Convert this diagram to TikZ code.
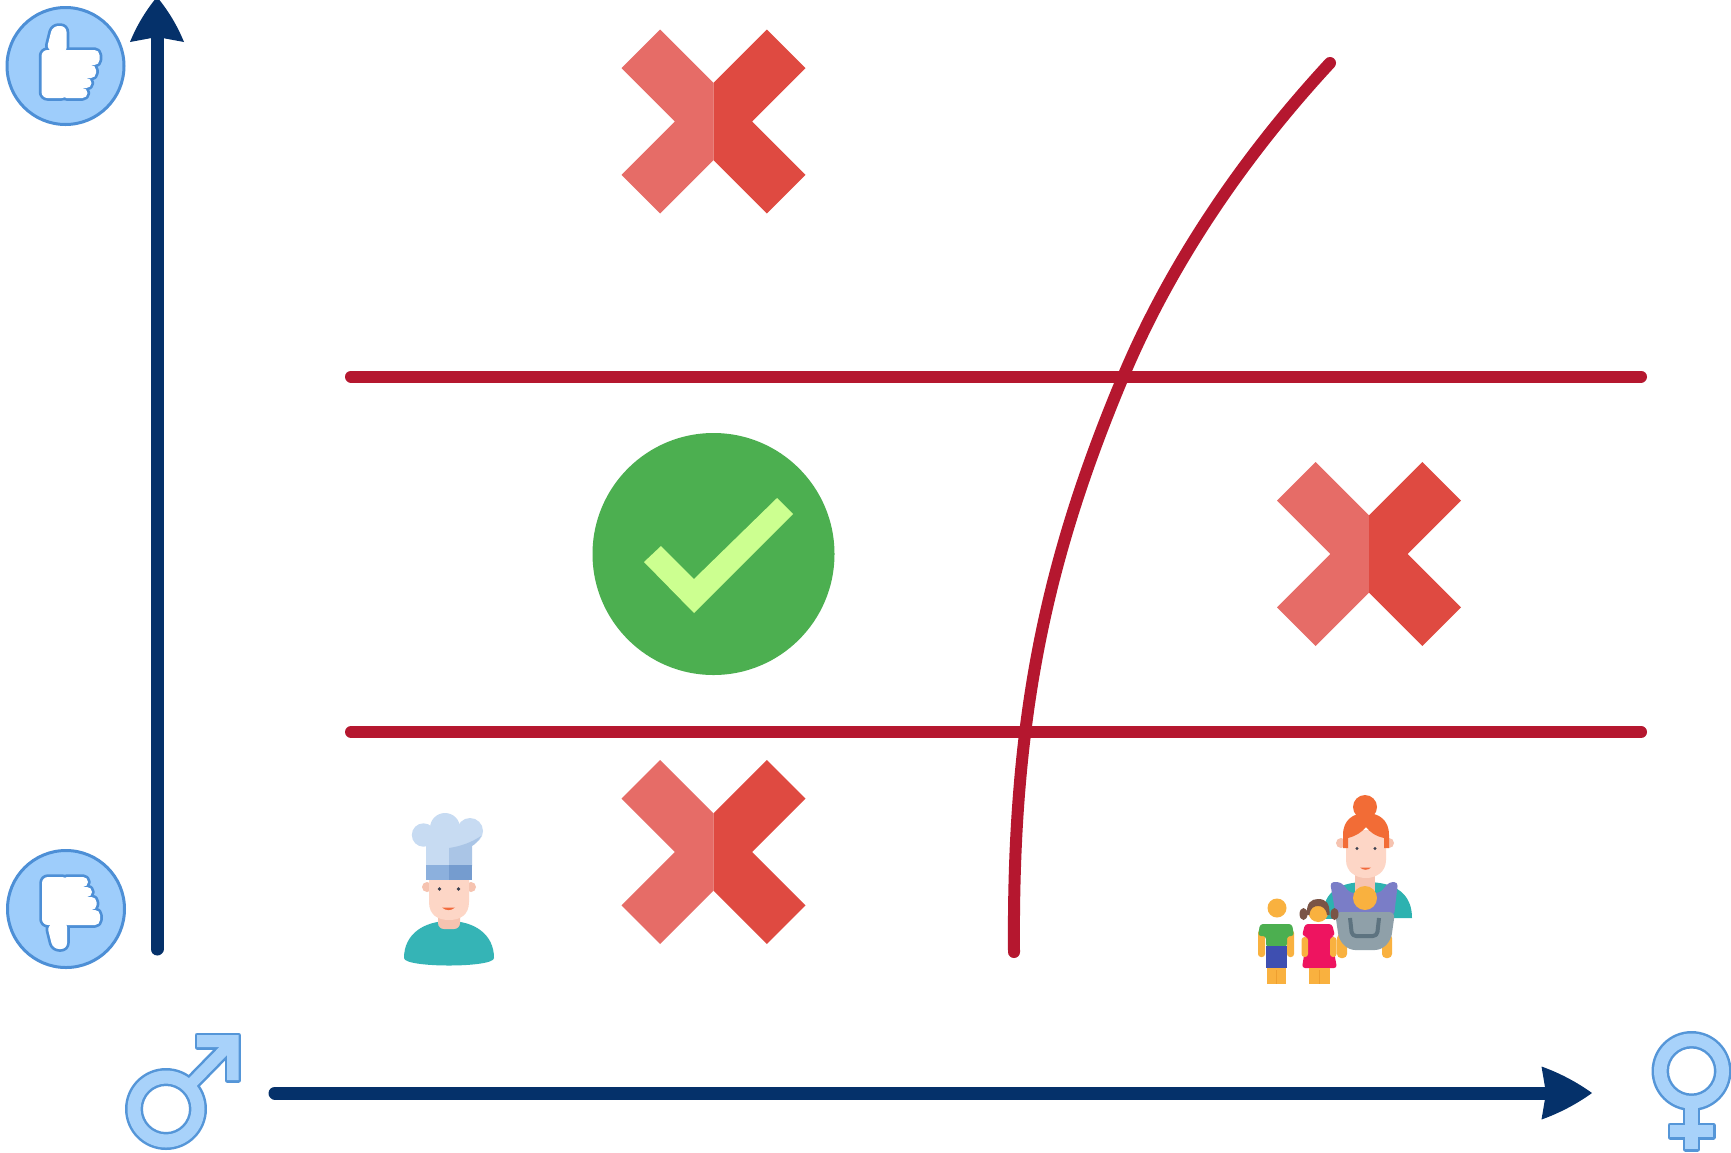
\documentclass[tikz,border=0pt]{standalone}
\definecolor{navy}{HTML}{05316A}
\definecolor{crimson}{HTML}{B5172F}
\definecolor{xlight}{HTML}{E66C67}
\definecolor{xdark}{HTML}{DF4A41}
\definecolor{okgreen}{HTML}{4CAF50}
\definecolor{oklime}{HTML}{CCFF90}
\definecolor{iconfill}{HTML}{9ECDFB}
\definecolor{iconline}{HTML}{4D8FD6}
\definecolor{symfill}{HTML}{A8D2FA}
\definecolor{symline}{HTML}{5596D8}
% people
\definecolor{skin}{HTML}{FDD6C6}
\definecolor{skinshade}{HTML}{F6C3B0}
\definecolor{chefteal}{HTML}{35B4B6}
\definecolor{hatc}{HTML}{C7DBF2}
\definecolor{hatshade}{HTML}{AAC5E6}
\definecolor{band}{HTML}{8CB0DD}
\definecolor{banddark}{HTML}{759CCF}
\definecolor{eyec}{HTML}{3B3F4E}
\definecolor{mouthc}{HTML}{F26A3C}
\definecolor{hairorange}{HTML}{F26C36}
\definecolor{mteal}{HTML}{2DB2B0}
\definecolor{mpurple}{HTML}{7A7DC7}
\definecolor{yell}{HTML}{F9B13F}
\definecolor{yelldark}{HTML}{EE9F30}
\definecolor{cgrey}{HTML}{8FA0A9}
\definecolor{cgreydark}{HTML}{5D7380}
\definecolor{boygreen}{HTML}{4CAF50}
\definecolor{boyblue}{HTML}{3E4FB1}
\definecolor{girlpink}{HTML}{EE1460}
\definecolor{girlhair}{HTML}{7A5446}

% hand of the thumb icon, drawn piece by piece
\newcommand\HandParts[1]{%
  \path[#1,rounded corners=6] (-24,-16) rectangle (2,32);
  \path[#1,rounded corners=6] (-19,-16) -- (-13,-40) -- (1,-40) -- (1,-12) -- cycle;
  \path[#1,rounded corners=5] (-4,-16) rectangle (34,-1);
  \path[#1,rounded corners=5] (-4,-1) rectangle (30.5,12);
  \path[#1,rounded corners=5] (-4,12) rectangle (26,22);
  \path[#1,rounded corners=5] (-4,22) rectangle (22,32);
}
% male and female signs
\newcommand\MaleParts[1]{%
  \path[#1,even odd rule] (166,1109) circle[radius=38.5] (166,1109) circle[radius=25.5];
  \path[#1] (192.5,1090.3) -- (235.9,1045.9) -- (228.1,1038.1) -- (184.7,1082.5) -- cycle;
  \path[#1] (197,1035) -- (238.5,1035) -- (238.5,1080) -- (227,1080) -- (227,1047) -- (197,1047) -- cycle;
}
\newcommand\FemaleParts[1]{%
  \path[#1,even odd rule] (1691.5,1071) circle[radius=37.5] (1691.5,1071) circle[radius=25];
  \path[#1] (1685.3,1100) rectangle (1697.7,1149);
  \path[#1] (1670,1125) rectangle (1713,1137);
}

\tikzset{
  axis/.style={navy, line width=13, line cap=round},
  border/.style={crimson, line width=12, line cap=round},
  cross/.pic={
    \fill[xlight] (0,-38.6) -- (-53.4,-92) -- (-92,-53.4) -- (-38.6,0) -- (-92,53.4) -- (-53.4,92) -- (0,38.6) -- cycle;
    \fill[xdark] (0,-38.6) -- (53.4,-92) -- (92,-53.4) -- (38.6,0) -- (92,53.4) -- (53.4,92) -- (0,38.6) -- cycle;
  },
  thumb/.pic={
    \fill[iconfill, draw=iconline, line width=3] (0,0) circle[radius=58.5];
    \HandParts{draw=iconline, line width=5.5}
    \HandParts{fill=white}
  }
}

\begin{document}
\begin{tikzpicture}[x=1pt, y=-1pt, line join=round]
\useasboundingbox (0,0) rectangle (1731,1152);
\fill[white] (0,0) rectangle (1731,1152);

% axes: shafts, then the heads
\coordinate (yfoot) at (157,949);
\coordinate (yneck) at (157,38);
\coordinate (ytip) at (157,-3);
\coordinate (xfoot) at (275,1093);
\coordinate (xneck) at (1547,1093);
\coordinate (xtip) at (1592,1093);
\draw[axis] (yfoot) -- (yneck);
\draw[axis] (xfoot) -- (xneck);
\begin{scope}[shift={(ytip)}]
  \fill[navy] (0,0) .. controls (-11.3,13.6) and (-20.3,28.6) .. (-27,45) -- (0,40)
    -- (27,45) .. controls (20.3,28.6) and (11.3,13.6) .. (0,0) -- cycle;
\end{scope}
\begin{scope}[shift={(xtip)}]
  \fill[navy] (0,0) .. controls (-15.6,-11.2) and (-32.4,-20) .. (-50.5,-26.5) -- (-46,0)
    -- (-50.5,26.5) .. controls (-32.4,20) and (-15.6,11.2) .. (0,0) -- cycle;
\end{scope}

% thumbs
\pic at (65.5,66) {thumb};
\pic[yscale=-1] at (66,909) {thumb};

% gender signs
\MaleParts{draw=symline, line width=5}
\MaleParts{fill=symfill}
\FemaleParts{draw=symline, line width=5}
\FemaleParts{fill=symfill}

% region borders
\coordinate (hiL) at (351,376.5);
\coordinate (hiR) at (1641,376.5);
\coordinate (loL) at (351,732);
\coordinate (loR) at (1641,732);
\coordinate (cbot) at (1014,952);
\coordinate (cmid) at (1123,377);
\coordinate (ctop) at (1330,63);
\draw[border] (hiL) -- (hiR);
\draw[border] (loL) -- (loR);
\draw[border] (cbot) .. controls (1012,720) and (1045.6,561.4) .. (cmid)
  .. controls (1171.4,261.75) and (1245.1,154.75) .. (ctop);

% verdicts
\pic at (713.5,121.5) {cross};
\pic at (1369,554) {cross};
\pic at (713.5,852) {cross};
\fill[okgreen] (713.5,554) circle[radius=121];
\fill[oklime] (644,562) -- (661,546) -- (694,579) -- (777,498) -- (793,514) -- (694,613) -- cycle;

% chef
\fill[chefteal] (404,958) .. controls (404,934) and (424,921) .. (449,921) .. controls (474,921) and (494,934) .. (494,958) .. controls (494,968) and (404,968) .. (404,958) -- cycle;
\fill[skinshade, rounded corners=6] (438,900) -- (438,929) -- (460,929) -- (460,900) -- cycle;
\fill[skinshade] (427,887) circle[radius=5];
\fill[skinshade] (471,887) circle[radius=5];
\fill[skin] (429,876) -- (429,902) .. controls (429,915) and (438,920) .. (449,920) .. controls (460,920) and (469,915) .. (469,902) -- (469,876) -- cycle;
\fill[eyec] (439.5,889) circle[radius=1.8];
\fill[eyec] (458.5,889) circle[radius=1.8];
\fill[mouthc] (442,907.5) .. controls (446,911) and (451,911) .. (455,907.5) -- cycle;
\fill[hatc] (426,836) rectangle (472,866);
\fill[hatc] (423.5,835) circle[radius=11.7];
\fill[hatc] (445,828) circle[radius=15];
\fill[hatc] (470,831) circle[radius=13];
\fill[hatshade] (449,866) -- (449,848) .. controls (462,846) and (472,842) .. (481,836) .. controls (478,842) and (474,845) .. (472,846) -- (472,866) -- cycle;
\fill[band] (426,865) rectangle (449,880);
\fill[banddark] (449,865) rectangle (472,880);

% mother carrying a baby
\fill[mteal] (1323,919) .. controls (1322,895) and (1335,882) .. (1366,882) .. controls (1397,882) and (1412,895) .. (1412,918) -- cycle;
\fill[skinshade] (1355,868) rectangle (1375,895);
\fill[mpurple, rounded corners=4] (1330,882) -- (1341,882) -- (1350,893) -- (1380,893) -- (1389,882) -- (1398,882) -- (1394,916) -- (1336,916) -- cycle;
\fill[skinshade] (1341,843) circle[radius=5];
\fill[skinshade] (1389,843) circle[radius=5];
\fill[skin] (1346,830) -- (1346,860) .. controls (1346,872) and (1356,878) .. (1366,878) .. controls (1376,878) and (1386,872) .. (1386,860) -- (1386,830) -- cycle;
\fill[hairorange] (1365,807) circle[radius=12];
\fill[hairorange] (1343,848) -- (1343,835) .. controls (1343,820) and (1353,813) .. (1366,813) .. controls (1379,813) and (1389,820) .. (1389,835) -- (1389,848) -- (1384,848) -- (1384,838) .. controls (1375,836) and (1370,832) .. (1366,827) .. controls (1362,832) and (1356,836) .. (1348,838) -- (1348,848) -- cycle;
\fill[eyec] (1357,848.5) circle[radius=1.6];
\fill[eyec] (1375,848.5) circle[radius=1.6];
\fill[mouthc] (1360,867.5) .. controls (1363,870.5) and (1368,870.5) .. (1371,867.5) -- cycle;
\fill[yell, rounded corners=4] (1337,934) rectangle (1347,958);
\fill[yell, rounded corners=4] (1382,934) rectangle (1392,958);
\fill[cgrey, rounded corners=6] (1335,912) -- (1395,912) -- (1391,940) -- (1381,950) -- (1349,950) -- (1339,940) -- cycle;
\draw[cgreydark, line width=4, rounded corners=4] (1350,918) -- (1352,936) -- (1377,936) -- (1379,918);
\fill[yell] (1365,898) circle[radius=12];

% boy
\fill[yell, rounded corners=3] (1258,930) rectangle (1265,957);
\fill[yell, rounded corners=3] (1287,930) rectangle (1294,957);
\fill[boygreen, rounded corners=3] (1258,936) -- (1260,924) -- (1292,924) -- (1294,936) -- (1287,936) -- (1287,947) -- (1266,947) -- (1266,936) -- cycle;
\fill[boyblue] (1266,946) rectangle (1287,968);
\fill[yell] (1267,968) rectangle (1286,984);
\draw[yelldark, line width=1] (1276.5,970) -- (1276.5,984);
\fill[yell] (1277,908) circle[radius=9.5];

% girl
\fill[girlpink, rounded corners=3] (1302,936) -- (1305,924) -- (1332,924) -- (1335,936) -- (1331,936) -- (1337,968) -- (1302,968) -- (1307,936) -- cycle;
\fill[yell, rounded corners=3] (1301.5,937) rectangle (1308,957);
\fill[yell, rounded corners=3] (1330,937) rectangle (1336.5,957);
\fill[yell] (1309,968) rectangle (1330,984);
\draw[yelldark, line width=1] (1319.5,970) -- (1319.5,984);
\fill[yell] (1318.3,912) circle[radius=10];
\fill[girlhair] (1303.5,914) ellipse[x radius=4, y radius=6];
\fill[girlhair] (1334.5,914) ellipse[x radius=4, y radius=6];
\fill[girlhair] (1307,915) .. controls (1306,903) and (1311,899) .. (1318,899) .. controls (1326,899) and (1330,903) .. (1329.5,915) -- (1327,915) .. controls (1326,908) and (1322,906) .. (1318,906) .. controls (1314,906) and (1310,908) .. (1309.5,915) -- cycle;
\end{tikzpicture}
\end{document}
